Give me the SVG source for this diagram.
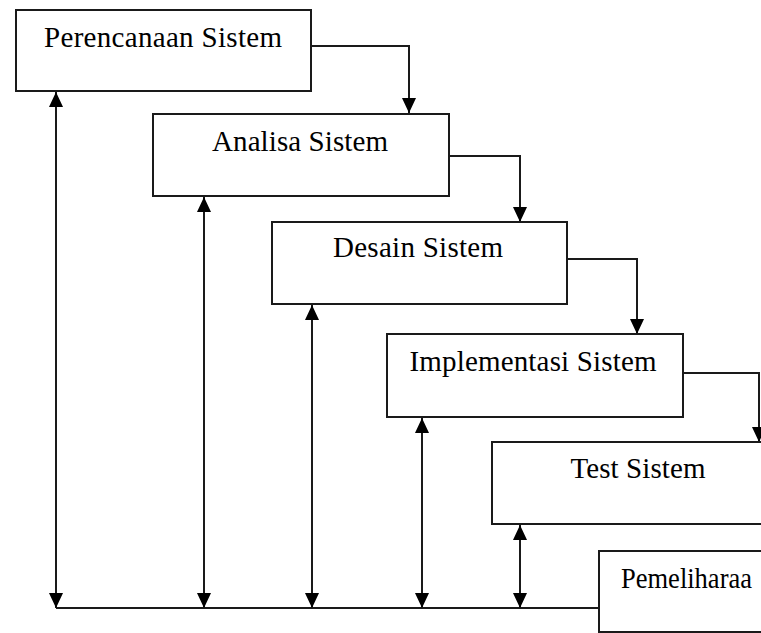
<svg xmlns="http://www.w3.org/2000/svg" width="761" height="633" viewBox="0 0 761 633">
<style>
.box{fill:#fff;stroke:#1a1a1a;stroke-width:2}
.lbl{font-family:"Liberation Serif","Times New Roman",serif;font-size:29px;fill:#000;text-anchor:middle}
.con{fill:none;stroke:#1a1a1a;stroke-width:2}
</style>
<defs>
<marker id="ah" markerUnits="userSpaceOnUse" markerWidth="15" markerHeight="14" viewBox="0 0 15 14" refX="15" refY="7" orient="auto-start-reverse">
<path d="M0,0 L15,7 L0,14 z" fill="#000"/>
</marker>
</defs>
<rect width="761" height="633" fill="#fff"/>
<g id="connectors">
<path class="con" d="M311,46 H409 V113" marker-end="url(#ah)"/>
<path class="con" d="M449,156 H520 V222" marker-end="url(#ah)"/>
<path class="con" d="M567,259 H637 V334" marker-end="url(#ah)"/>
<path class="con" d="M683,373 H759 V442" marker-end="url(#ah)"/>
<path class="con" d="M56,608 H599"/>
<path class="con" d="M56,92 V608" marker-start="url(#ah)" marker-end="url(#ah)"/>
<path class="con" d="M204,197 V608" marker-start="url(#ah)" marker-end="url(#ah)"/>
<path class="con" d="M312,305 V608" marker-start="url(#ah)" marker-end="url(#ah)"/>
<path class="con" d="M422,418 V608" marker-start="url(#ah)" marker-end="url(#ah)"/>
<path class="con" d="M520,525 V608" marker-start="url(#ah)" marker-end="url(#ah)"/>
</g>
<g id="perencanaan">
<rect class="box" x="16" y="10" width="295" height="81"/>
<text class="lbl" x="163" y="47" textLength="238" lengthAdjust="spacing">Perencanaan Sistem</text>
</g>
<g id="analisa">
<rect class="box" x="153" y="114" width="296" height="82"/>
<text class="lbl" x="300" y="151" textLength="176" lengthAdjust="spacing">Analisa Sistem</text>
</g>
<g id="desain">
<rect class="box" x="272" y="222" width="295" height="82"/>
<text class="lbl" x="418" y="257" textLength="170" lengthAdjust="spacing">Desain Sistem</text>
</g>
<g id="implementasi">
<rect class="box" x="387" y="334" width="296" height="83"/>
<text class="lbl" x="533" y="371" textLength="247" lengthAdjust="spacing">Implementasi Sistem</text>
</g>
<g id="test">
<path class="box" d="M762,442 H492 V524 H762"/>
<text class="lbl" x="638" y="478" textLength="135" lengthAdjust="spacing">Test Sistem</text>
</g>
<g id="pemeliharaan">
<path class="box" d="M762,551 H599 V632 H762"/>
<text class="lbl" x="621" y="588" style="text-anchor:start" textLength="131" lengthAdjust="spacingAndGlyphs">Pemeliharaa</text>
</g>
</svg>
